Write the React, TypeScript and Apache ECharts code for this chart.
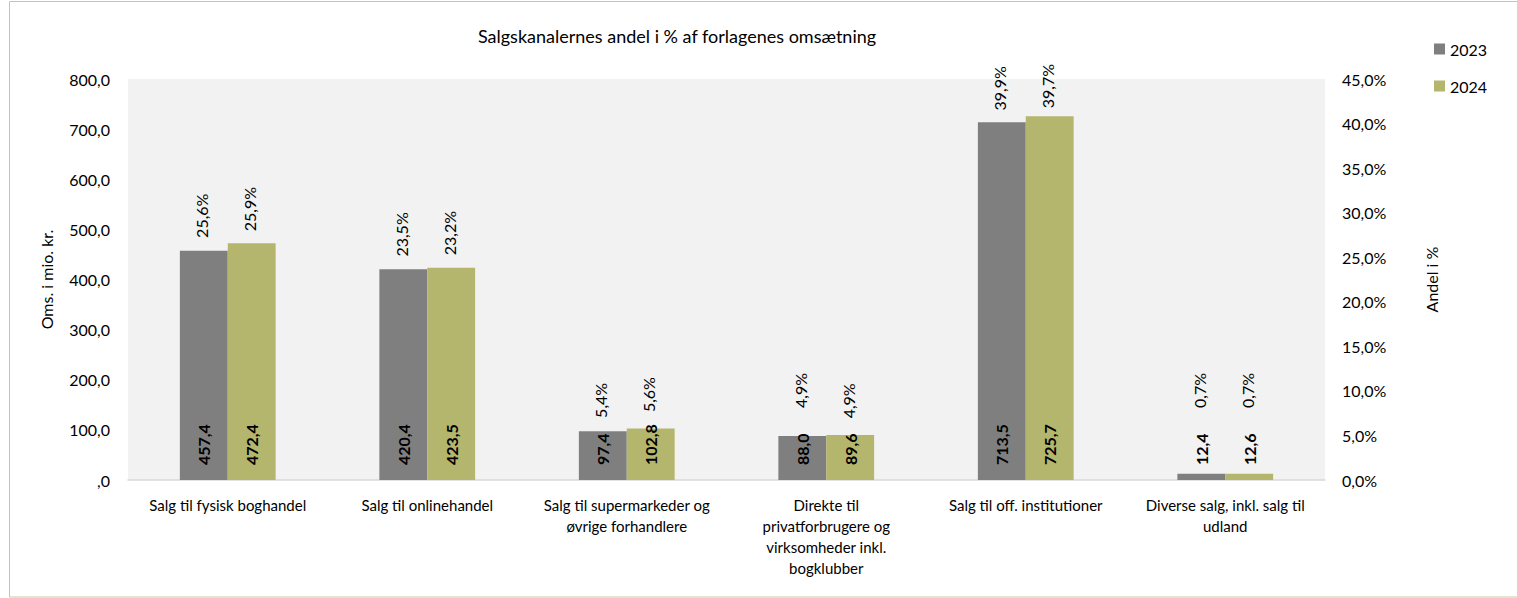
import React, { useEffect, useRef } from "react";
import * as echarts from "echarts";

const categories = [
  "Salg til fysisk boghandel",
  "Salg til onlinehandel",
  "Salg til supermarkeder og\nøvrige forhandlere",
  "Direkte til\nprivatforbrugere og\nvirksomheder inkl.\nbogklubber",
  "Salg til off. institutioner",
  "Diverse salg, inkl. salg til\nudland",
];
const years = ["2023", "2024"];
const sales2023 = [457.4, 420.4, 97.4, 88.0, 713.5, 12.4];
const sales2024 = [472.4, 423.5, 102.8, 89.6, 725.7, 12.6];
const share2023 = [25.6, 23.5, 5.4, 4.9, 39.9, 0.7];
const share2024 = [25.9, 23.2, 5.6, 4.9, 39.7, 0.7];

const FONT = "Lato, 'Noto Sans', sans-serif";
const GRAY = "#7f7f7f";
const GREEN = "#b3b66c";
const BAR_FRACTION = 0.24;

const fmt = (v: number) => v.toFixed(1).replace(".", ",");

export default function App() {
  const ref = useRef<HTMLDivElement>(null);
  useEffect(() => {
    if (!ref.current) return;
    const chart = echarts.init(ref.current, null, { renderer: "svg" });
    const shareData: number[][] = [];
    share2023.forEach((v, i) => shareData.push([i, v, 0]));
    share2024.forEach((v, i) => shareData.push([i, v, 1]));

    const valueLabel = {
      show: true,
      position: "insideBottom",
      rotate: 90,
      align: "left",
      verticalAlign: "middle",
      distance: 15,
      formatter: (p: any) => fmt(p.value),
      fontWeight: "bold",
      fontSize: 16,
      color: "#000",
      fontFamily: FONT,
    };

    chart.setOption({
      animation: false,
      backgroundColor: "#fff",
      textStyle: { fontFamily: FONT },
      title: {
        text: "Salgskanalernes andel i % af forlagenes omsætning",
        left: 672,
        top: 22,
        textAlign: "center",
        textStyle: { fontSize: 18, fontWeight: "normal", color: "#000", fontFamily: FONT },
      },
      legend: {
        orient: "vertical",
        left: 1429,
        top: 36,
        itemWidth: 11,
        itemHeight: 11,
        itemGap: 21,
        icon: "rect",
        data: years,
        textStyle: { fontSize: 16, color: "#000", fontFamily: FONT },
      },
      graphic: [
        {
          type: "rect",
          shape: { x: 9.5, y: 1.5, width: 1600, height: 595.5 },
          style: { fill: "none", stroke: "#c9c4a6", lineWidth: 1 },
          silent: true,
          z: 100,
        },
      ],
      grid: {
        left: 128,
        right: 192,
        top: 79,
        bottom: 118,
        show: true,
        backgroundColor: "#f2f2f2",
        borderWidth: 0,
      },
      xAxis: {
        type: "category",
        data: categories,
        axisTick: { show: false },
        axisLine: { show: true, lineStyle: { color: "#d9d9d9", width: 1.5 } },
        axisLabel: {
          interval: 0,
          fontSize: 15,
          lineHeight: 21,
          margin: 14,
          color: "#000",
          fontFamily: FONT,
        },
      },
      yAxis: [
        {
          type: "value",
          min: 0,
          max: 800,
          interval: 100,
          name: "Oms. i mio. kr.",
          nameLocation: "middle",
          nameGap: 74,
          nameRotate: 90,
          nameTextStyle: { fontSize: 16, color: "#000", fontFamily: FONT },
          splitLine: { show: false },
          axisLine: { show: false },
          axisTick: { show: false },
          axisLabel: {
            margin: 18,
            fontSize: 16,
            color: "#000",
            fontFamily: FONT,
            formatter: (v: number) => (v === 0 ? ",0" : fmt(v)),
          },
        },
        {
          type: "value",
          min: 0,
          max: 45,
          interval: 5,
          position: "right",
          name: "Andel i %",
          nameLocation: "middle",
          nameGap: 98,
          nameRotate: 90,
          nameTextStyle: { fontSize: 16, color: "#000", fontFamily: FONT },
          splitLine: { show: false },
          axisLine: { show: false },
          axisTick: { show: false },
          axisLabel: {
            margin: 17,
            fontSize: 16,
            color: "#000",
            fontFamily: FONT,
            formatter: (v: number) => fmt(v) + "%",
          },
        },
      ],
      series: [
        {
          name: years[0],
          type: "bar",
          data: sales2023,
          itemStyle: { color: GRAY },
          barGap: "0%",
          barCategoryGap: "52%",
          label: valueLabel,
        },
        {
          name: years[1],
          type: "bar",
          data: sales2024,
          itemStyle: { color: GREEN },
          barGap: "0%",
          barCategoryGap: "52%",
          label: valueLabel,
        },
        {
          name: "share",
          type: "custom",
          yAxisIndex: 1,
          silent: true,
          z: 10,
          encode: { x: 0, y: 1 },
          data: shareData,
          renderItem: (params: any, api: any) => {
            const cat = api.value(0);
            const pct = api.value(1);
            const yr = api.value(2);
            const pt = api.coord([cat, pct]);
            const base = api.coord([cat, 0]);
            const band = api.size([1, 0])[0];
            const barW = band * BAR_FRACTION;
            const x = pt[0] + (yr === 0 ? -barW / 2 : barW / 2) - 2;
            let bottom = pt[1] - (yr === 0 ? 14 : 18);
            if (base[1] - bottom < 60) bottom = base[1] - 72;
            return {
              type: "text",
              x,
              y: bottom,
              rotation: Math.PI / 2,
              style: {
                text: fmt(pct) + "%",
                align: "left",
                verticalAlign: "middle",
                fill: "#000",
                fontSize: 16,
                fontFamily: FONT,
              },
            };
          },
        },
      ],
    });
    return () => chart.dispose();
  }, []);
  return (
    <div
      ref={ref}
      style={{ position: "absolute", left: 0, top: 0, width: 1517, height: 598 }}
    />
  );
}
